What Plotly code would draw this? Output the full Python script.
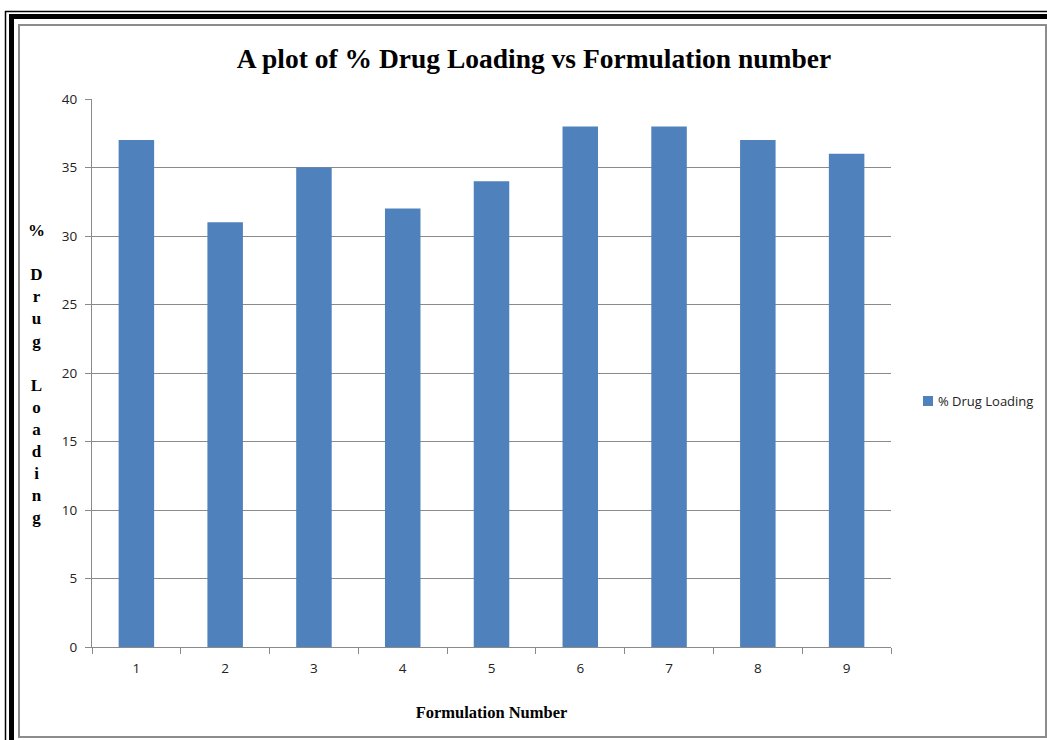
import plotly.graph_objects as go

# Formulation numbers and their measured % drug loading
formulations = ["1", "2", "3", "4", "5", "6", "7", "8", "9"]
drug_loading = [37, 31, 35, 32, 34, 38, 38, 37, 36]
y_ticks = [0, 5, 10, 15, 20, 25, 30, 35, 40]
series_name = "% Drug Loading"

W, H = 1047, 740
L, R, T, B = 92, 891, 99, 647  # plot area in pixels

def px(x):
    return (x - L) / (R - L)

def py(y):
    return (B - y) / (B - T)

GRID = "#8a8a8a"
BAR = "#4F81BD"
SANS = "Open Sans, Liberation Sans, sans-serif"
SERIF = "Liberation Serif, Times New Roman, serif"

fig = go.Figure()
fig.add_trace(go.Bar(
    x=formulations, y=drug_loading, name=series_name,
    marker=dict(color=BAR, line=dict(width=0)),
    showlegend=False,
))

# stacked letters of the vertical axis title
ytitle = "<br>".join(["%", "", "D", "r", "u", "g", "", "L", "o", "a", "d", "i", "n", "g"])

shapes = [
    # thin black outer rule
    dict(type="line", xref="paper", yref="paper", x0=px(5), x1=px(1047), y0=py(11.5), y1=py(11.5),
         line=dict(color="black", width=1.5)),
    dict(type="line", xref="paper", yref="paper", x0=px(5.5), x1=px(5.5), y0=py(11), y1=py(740),
         line=dict(color="black", width=1.5)),
    # thick black rule
    dict(type="rect", xref="paper", yref="paper", x0=px(9), x1=px(1047), y0=py(14), y1=py(19),
         fillcolor="black", line=dict(width=0)),
    dict(type="rect", xref="paper", yref="paper", x0=px(9), x1=px(14), y0=py(14), y1=py(740),
         fillcolor="black", line=dict(width=0)),
    # gray chart frame
    dict(type="rect", xref="paper", yref="paper", x0=px(19), x1=px(1046), y0=py(25), y1=py(737),
         line=dict(color="#8c8c8c", width=2), fillcolor="rgba(0,0,0,0)"),
    # legend swatch
    dict(type="rect", xref="paper", yref="paper", x0=px(923), x1=px(933), y0=py(396), y1=py(406),
         fillcolor=BAR, line=dict(width=0)),
]

fig.update_layout(
    width=W, height=H,
    margin=dict(l=L, r=W - R, t=T, b=H - B, pad=0, autoexpand=False),
    paper_bgcolor="white", plot_bgcolor="white",
    bargap=0.6,
    shapes=shapes,
    showlegend=False,
    title=dict(text="<b>A plot of % Drug Loading vs Formulation number</b>",
               xref="container", yref="container",
               x=534 / W, xanchor="center", y=1 - 58 / H, yanchor="middle",
               font=dict(family=SERIF, size=27.5, color="black")),
    xaxis=dict(
        type="category", tickson="boundaries", ticks="outside", ticklen=6, tickcolor=GRID,
        showline=True, linecolor=GRID, linewidth=1, showgrid=False,
        ticklabelstandoff=9,
        tickfont=dict(family=SANS, size=13.5, color="#222"),
        title=dict(text="<b>Formulation Number</b>", standoff=30,
                   font=dict(family=SERIF, size=16.5, color="black")),
    ),
    yaxis=dict(
        range=[0, 40], tickvals=y_ticks, ticks="outside", ticklen=6, tickcolor=GRID,
        showline=True, linecolor=GRID, linewidth=1,
        ticklabelstandoff=5,
        showgrid=True, gridcolor=GRID, gridwidth=1, zeroline=False,
        tickfont=dict(family=SANS, size=13.5, color="#222"),
    ),
    annotations=[
        dict(text="<b>" + ytitle + "</b>", xref="paper", yref="paper",
             x=px(36), y=py(374), xanchor="center", yanchor="middle", showarrow=False,
             font=dict(family=SERIF, size=17, color="black")),
        dict(text=series_name, xref="paper", yref="paper",
             x=px(936), y=py(401), xanchor="left", yanchor="middle", showarrow=False,
             font=dict(family=SANS, size=13, color="#222")),
    ],
)

fig.write_html("out.html")
